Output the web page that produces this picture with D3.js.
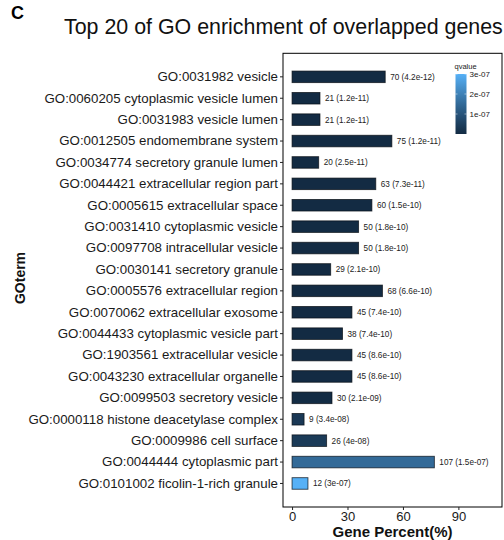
<!DOCTYPE html>
<html>
<head>
<meta charset="utf-8">
<script src="https://cdn.jsdelivr.net/npm/d3@7"></script>
<style>
  html, body { margin: 0; padding: 0; background: #fff; }
  svg { display: block; font-family: "Liberation Sans", Arial, sans-serif; }
</style>
</head>
<body>
<svg id="chart" width="504" height="540"></svg>
<script>
// GO terms, top to bottom
const terms = [
  "GO:0031982 vesicle",
  "GO:0060205 cytoplasmic vesicle lumen",
  "GO:0031983 vesicle lumen",
  "GO:0012505 endomembrane system",
  "GO:0034774 secretory granule lumen",
  "GO:0044421 extracellular region part",
  "GO:0005615 extracellular space",
  "GO:0031410 cytoplasmic vesicle",
  "GO:0097708 intracellular vesicle",
  "GO:0030141 secretory granule",
  "GO:0005576 extracellular region",
  "GO:0070062 extracellular exosome",
  "GO:0044433 cytoplasmic vesicle part",
  "GO:1903561 extracellular vesicle",
  "GO:0043230 extracellular organelle",
  "GO:0099503 secretory vesicle",
  "GO:0000118 histone deacetylase complex",
  "GO:0009986 cell surface",
  "GO:0044444 cytoplasmic part",
  "GO:0101002 ficolin-1-rich granule"
];
// gene percent (%) per term
const genePercent = [50.4, 15.1, 15.1, 54.0, 14.4, 45.3, 43.2, 36.0, 36.0, 20.9,
                     48.9, 32.4, 27.3, 32.4, 32.4, 21.6, 6.5, 18.7, 77.0, 8.6];
// gene counts
const geneCount = [70, 21, 21, 75, 20, 63, 60, 50, 50, 29, 68, 45, 38, 45, 45, 30, 9, 26, 107, 12];
// q values
const qvalue = [4.2e-12, 1.2e-11, 1.2e-11, 1.2e-11, 2.5e-11, 7.3e-11, 1.5e-10, 1.8e-10, 1.8e-10, 2.1e-10,
                6.6e-10, 7.4e-10, 7.4e-10, 8.6e-10, 8.6e-10, 2.1e-09, 3.4e-08, 4e-08, 1.5e-07, 3e-07];
const qLabel = ["4.2e-12", "1.2e-11", "1.2e-11", "1.2e-11", "2.5e-11", "7.3e-11", "1.5e-10", "1.8e-10", "1.8e-10", "2.1e-10",
                "6.6e-10", "7.4e-10", "7.4e-10", "8.6e-10", "8.6e-10", "2.1e-09", "3.4e-08", "4e-08", "1.5e-07", "3e-07"];
const xTicks = [0, 30, 60, 90];
const legendTicks = [1e-7, 2e-7, 3e-7];
const legendTickLabels = ["1e-07", "2e-07", "3e-07"];

const rows = terms.map((t, i) => ({ term: t, pct: genePercent[i], n: geneCount[i], q: qvalue[i], ql: qLabel[i] }));

const svg = d3.select("#chart");
const panel = { left: 283, right: 502, top: 53.3, bottom: 507 };

const x = d3.scaleLinear().domain([-4.9, 113.6]).range([panel.left, panel.right]);
const y = d3.scaleBand().domain(terms).range([panel.top, panel.bottom]).paddingOuter(0.6).paddingInner(0);
const bandH = y.bandwidth();
const barH = bandH * 0.54;

const color = d3.scaleLinear()
  .domain(d3.extent(qvalue))
  .range(["#132B43", "#56B1F7"])
  .interpolate(d3.interpolateLab);

// panel label and title
svg.append("text").attr("x", 11).attr("y", 18.5)
  .attr("font-size", 18).attr("font-weight", "bold").attr("fill", "#000").text("C");
svg.append("text").attr("x", 64).attr("y", 33.5)
  .attr("font-size", 21.4).attr("fill", "#111").text("Top 20 of GO enrichment of overlapped genes");

// bars
svg.append("g").selectAll("rect").data(rows).join("rect")
  .attr("x", x(0))
  .attr("y", d => y(d.term) + (bandH - barH) / 2)
  .attr("width", d => x(d.pct) - x(0))
  .attr("height", barH)
  .attr("fill", d => color(d.q))
  .attr("stroke", "#050b12")
  .attr("stroke-opacity", 0.75)
  .attr("stroke-width", 0.9);

// count (q) labels
svg.append("g").selectAll("text").data(rows).join("text")
  .attr("x", d => x(d.pct) + 5)
  .attr("y", d => y(d.term) + bandH / 2)
  .attr("dy", "0.35em")
  .attr("font-size", 8.2)
  .attr("fill", "#222")
  .text(d => `${d.n} (${d.ql})`);

// panel border
svg.append("rect")
  .attr("x", panel.left).attr("y", panel.top)
  .attr("width", panel.right - panel.left).attr("height", panel.bottom - panel.top)
  .attr("fill", "none").attr("stroke", "#000").attr("stroke-width", 1);

// y axis
const yAxis = svg.append("g").attr("transform", `translate(${panel.left},0)`)
  .call(d3.axisLeft(y).tickSize(3).tickPadding(2));
yAxis.select(".domain").remove();
yAxis.selectAll(".tick line").attr("stroke", "#222");
yAxis.selectAll(".tick text").attr("font-size", 13.3).attr("fill", "#1a1a1a")
  .attr("font-family", "Liberation Sans, Arial, sans-serif");

// x axis
const xAxis = svg.append("g").attr("transform", `translate(0,${panel.bottom})`)
  .call(d3.axisBottom(x).tickValues(xTicks).tickSize(3).tickPadding(1.5));
xAxis.select(".domain").remove();
xAxis.selectAll(".tick line").attr("stroke", "#222");
xAxis.selectAll(".tick text").attr("font-size", 13).attr("fill", "#1a1a1a")
  .attr("font-family", "Liberation Sans, Arial, sans-serif");

// axis titles
svg.append("text")
  .attr("x", (panel.left + panel.right) / 2).attr("y", 537)
  .attr("text-anchor", "middle").attr("font-size", 15).attr("font-weight", "bold")
  .attr("fill", "#111").text("Gene Percent(%)");
svg.append("text")
  .attr("transform", "translate(25,278) rotate(-90)")
  .attr("text-anchor", "middle").attr("font-size", 14).attr("font-weight", "bold")
  .attr("fill", "#111").text("GOterm");

// colour legend
const legend = { x: 455.5, w: 11, top: 74, bottom: 134 };
const defs = svg.append("defs");
const grad = defs.append("linearGradient").attr("id", "qgrad")
  .attr("x1", 0).attr("y1", 1).attr("x2", 0).attr("y2", 0);
d3.range(0, 1.0001, 0.1).forEach(t => {
  const v = color.domain()[0] + t * (color.domain()[1] - color.domain()[0]);
  grad.append("stop").attr("offset", t).attr("stop-color", color(v));
});
const ly = d3.scaleLinear().domain(color.domain()).range([legend.bottom, legend.top]);
svg.append("rect")
  .attr("x", legend.x).attr("y", legend.top)
  .attr("width", legend.w).attr("height", legend.bottom - legend.top)
  .attr("fill", "url(#qgrad)");
svg.append("text").attr("x", legend.x - 1).attr("y", 68.5)
  .attr("font-size", 7.5).attr("fill", "#222").text("qvalue");
const lt = svg.append("g");
lt.selectAll("line").data(legendTicks).join("line")
  .attr("x1", legend.x).attr("x2", legend.x + 2)
  .attr("y1", d => ly(d)).attr("y2", d => ly(d))
  .attr("stroke", "#fff").attr("stroke-width", 0.5);
lt.selectAll("line.r").data(legendTicks).join(enter => enter.append("line").attr("class", "r"))
  .attr("x1", legend.x + legend.w - 2).attr("x2", legend.x + legend.w)
  .attr("y1", d => ly(d)).attr("y2", d => ly(d))
  .attr("stroke", "#fff").attr("stroke-width", 0.5);
lt.selectAll("text").data(legendTicks).join("text")
  .attr("x", legend.x + legend.w + 3)
  .attr("y", d => ly(d)).attr("dy", "0.35em")
  .attr("font-size", 8).attr("fill", "#222")
  .text((d, i) => legendTickLabels[i]);
</script>
</body>
</html>
